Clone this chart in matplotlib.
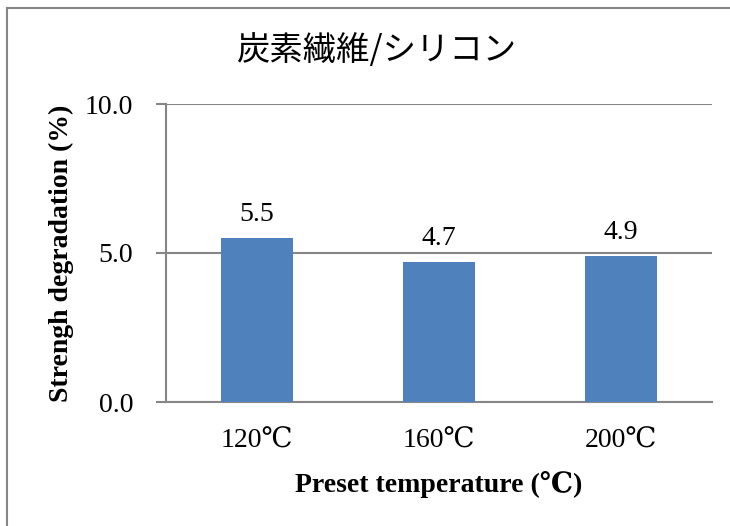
import matplotlib
matplotlib.use("Agg")
import matplotlib.pyplot as plt
from matplotlib.lines import Line2D

categories = ["120℃", "160℃", "200℃"]
values = [5.5, 4.7, 4.9]
yticks = [0.0, 5.0, 10.0]
title = "炭素繊維/シリコン"
xlabel = "Preset temperature (℃)"
ylabel = "Strengh degradation (%)"

serif = ["Liberation Serif", "DejaVu Serif", "Noto Sans CJK JP"]
gray = "#868686"
bar_color = "#4F81BD"

fig = plt.figure(figsize=(7.3, 5.26), dpi=100)
ax = fig.add_axes([166/730, 1-402/526, (712-166)/730, (402-104)/526])

x = list(range(len(categories)))
ax.bar(x, values, width=0.4, color=bar_color, zorder=3)
ax.set_xlim(-0.5, len(categories)-0.5)
ax.set_ylim(0, 10)
ax.set_yticks(yticks)
ax.set_yticklabels([f"{v:.1f}" for v in yticks], family=serif, fontsize=20)
ax.set_xticks(x)
ax.set_xticklabels(categories, family=serif, fontsize=20)
ax.tick_params(axis="x", length=0, pad=19)
ax.tick_params(axis="y", length=7.2, width=1.5, color=gray, pad=16.5)
ax.grid(axis="y", color=gray, linewidth=1.5, zorder=0)
for s in ["top", "right"]:
    ax.spines[s].set_visible(False)
for s in ["left", "bottom"]:
    ax.spines[s].set_color(gray)
    ax.spines[s].set_linewidth(1.5)

for xi, v in zip(x, values):
    ax.annotate(f"{v:.1f}", (xi, v), xytext=(0, 12.5), textcoords="offset points",
                ha="center", va="baseline", family=serif, fontsize=20)

ax.set_xlabel(xlabel, family=serif, fontsize=20, fontweight="bold", labelpad=13)
ax.set_ylabel(ylabel, family=serif, fontsize=20, fontweight="bold", labelpad=8)
fig.text(377/730, 1-51/526, title, family=["Noto Sans CJK JP", "DejaVu Sans"],
         fontsize=24, ha="center", va="center")

# outer chart border
fig.add_artist(Line2D([7/730, 7/730], [0, 1-8/526], transform=fig.transFigure, color=gray, linewidth=1.5))
fig.add_artist(Line2D([7/730, 1], [1-8/526, 1-8/526], transform=fig.transFigure, color=gray, linewidth=1.5))

fig.savefig("out.png", dpi=100)
